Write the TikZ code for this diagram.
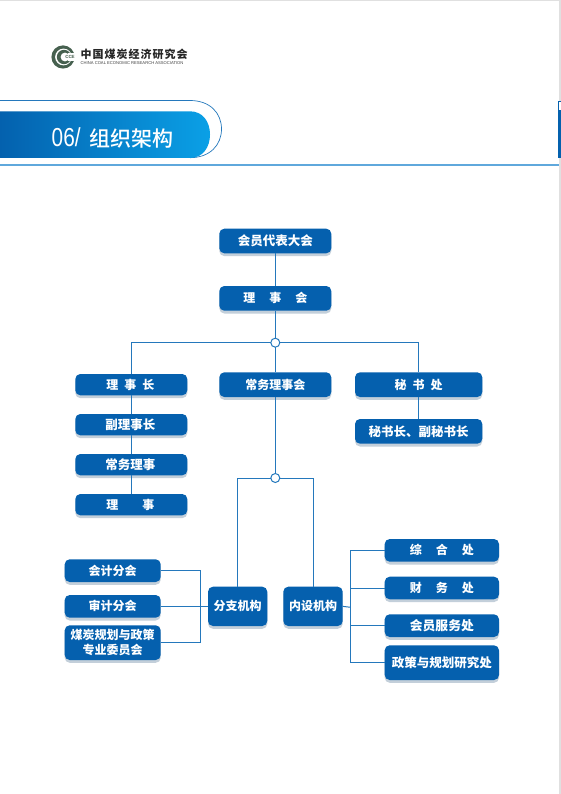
\documentclass[tikz,border=0pt]{standalone}
\usepackage{fontspec}
\setmainfont{Liberation Sans}
\newfontfamily\cjkb{Noto Sans CJK SC Black}
\newfontfamily\cjkm{Noto Sans CJK SC Medium}
\usetikzlibrary{shadows,calc}
\definecolor{boxblue}{HTML}{0560AE}
\definecolor{linkblue}{HTML}{2478BC}
\definecolor{shadowgrey}{HTML}{C3CFDA}
\definecolor{ruleblue}{HTML}{5FA8DC}
\definecolor{gradl}{HTML}{0461AE}
\definecolor{gradr}{HTML}{0AA0E6}
\definecolor{logogreen}{HTML}{46604F}
\newcommand{\orgbox}[6]{%
  \pgfmathsetmacro{\bw}{#4-#2}\pgfmathsetmacro{\bh}{#5-#3}%
  \node[orgnode,minimum width=\bw pt,minimum height=\bh pt] (#1) at ({(#2+#4)/2},{(#3+#5)/2}) {#6};}
\tikzset{
  orgnode/.style={fill=boxblue,text=white,rounded corners=5pt,inner sep=0pt,outer sep=0pt,
    font=\cjkb\fontsize{12}{15}\selectfont,align=center,
    copy shadow={draw=none,fill=shadowgrey,shadow xshift=0pt,shadow yshift=-2.8pt}},
  link/.style={draw=linkblue,line width=1pt},
  junction/.style={circle,draw=linkblue,fill=white,line width=1pt,minimum size=9pt,inner sep=0pt,outer sep=0pt}
}
\begin{document}
\begin{tikzpicture}[x=1pt,y=-1pt]
\useasboundingbox (0,0) rectangle (561,794);
\fill[white] (0,0) rectangle (561,794);
% page edges
\fill[black!12] (0,0) rectangle (561,1);
\fill[black!12] (559,0) rectangle (561,794);
% side tab
\fill[gradl] (558,101) rectangle (561,158);
\fill[white] (559,102) rectangle (561,110);
% header
\draw[linkblue,line width=0.7pt] (0,100.5) -- (190,100.5) .. controls (210,100.5) and (221.5,113) .. (221.5,129) .. controls (221.5,145) and (210,157.7) .. (190,157.7);
\shade[left color=gradl,right color=gradr] (0,111.3) -- (190,111.3) .. controls (203,111.3) and (210,122) .. (210,134.5) .. controls (210,147) and (203,158) .. (190,158) -- (0,158) -- cycle;
\draw[ruleblue,line width=1.1pt] (0,165) -- (559,165);
\node[anchor=west,text=white,inner sep=0pt,font=\fontsize{26}{26}\selectfont] (num) at (51.5,137.5) {\scalebox{0.8}[1]{06/}};
\node[anchor=west,text=white,inner sep=0pt,font=\cjkm\fontsize{21}{21}\selectfont] (title) at (89,138.5) {组织架构};
% logo
\fill[logogreen] (63,57) circle (11.6);
\fill[white] (63.5,57) circle (8.4);
\fill[logogreen] (64,57) circle (7.2);
\fill[white] (65,57) circle (4.4);
\fill[white] (68,53) rectangle (75,61);
\node[text=logogreen,inner sep=0pt,font=\bfseries\fontsize{4.5}{5}\selectfont] (coal) at (70,57) {CCE};
\node[anchor=west,inner sep=0pt,text=black!85,font=\cjkb\fontsize{11}{12}\selectfont] (lname) at (80.5,54) {中\hspace{1pt}国\hspace{1pt}煤\hspace{1pt}炭\hspace{1pt}经\hspace{1pt}济\hspace{1pt}研\hspace{1pt}究\hspace{1pt}会};
\node[anchor=west,inner sep=0pt,text=black!75,font=\fontsize{4.15}{5}\selectfont] (ename) at (80.5,62.6) {CHINA COAL ECONOMIC RESEARCH ASSOCIATION};
% boxes
\orgbox{a}{219.3}{228.7}{331.3}{253.3}{{\fontsize{12.5}{15}\selectfont 会员代表大会}}
\orgbox{b}{219.3}{286}{331.3}{310.7}{理\hspace{14pt}事\hspace{14pt}会}
\orgbox{c1}{75.3}{374}{187.3}{395.3}{\hspace*{-2pt}理\hspace{6pt}事\hspace{6pt}长}
\orgbox{c2}{75.3}{414}{187.3}{435.3}{\hspace*{-2pt}{\fontsize{12.5}{15}\selectfont 副理事长}}
\orgbox{c3}{75.3}{454}{187.3}{475.3}{\hspace*{-2pt}{\fontsize{12.5}{15}\selectfont 常务理事}}
\orgbox{c4}{75.3}{494}{187.3}{515.3}{\hspace*{-2pt}理\hspace{24pt}事}
\orgbox{d}{219.3}{372.3}{331.3}{397}{常务理事会}
\orgbox{e1}{355}{372.3}{482.3}{397}{秘\hspace{6pt}书\hspace{6pt}处}
\orgbox{e2}{355}{419}{482.3}{443.7}{{\fontsize{12.5}{15}\selectfont 秘书长、副秘书长}}
\orgbox{f1}{64.7}{559.3}{160.7}{582}{会计分会}
\orgbox{f2}{64.7}{595}{160.7}{617.7}{审计分会}
\orgbox{f3}{64.7}{625.3}{160.7}{660}{煤炭规划与政策\\专业委员会}
\orgbox{g}{208}{586.7}{267.3}{626}{分支机构}
\orgbox{h}{283.3}{586.7}{342.7}{626}{内设机构}
\orgbox{i1}{384.7}{539}{499}{561.7}{综\hspace{14pt}合\hspace{14pt}处}
\orgbox{i2}{384.7}{576.7}{499}{599.3}{财\hspace{14pt}务\hspace{14pt}处}
\orgbox{i3}{384.7}{614.3}{499}{637}{{\fontsize{12.8}{15}\selectfont 会员服务处}}
\orgbox{i4}{384.7}{645.3}{499}{680}{{\fontsize{12.5}{15}\selectfont 政策与规划研究处}}
% junctions and free bends
\node[junction] (j1) at (275.3,342.7) {};
\node[junction] (j2) at (275.3,478) {};
\coordinate (lb) at (200,607.3);
\coordinate (rb) at (350.7,607.3);
% connectors
\draw[link] (a.south) -- (b.north);
\draw[link] (b.south) -- (j1.north);
\draw[link] (j1.south) -- (d.north);
\draw[link] (j1.west) -| (c1.north);
\draw[link] (j1.east) -| (e1.north);
\draw[link] (c1.south) -- (c2.north);
\draw[link] (c2.south) -- (c3.north);
\draw[link] (c3.south) -- (c4.north);
\draw[link] (e1.south) -- (e2.north);
\draw[link] (d.south) -- (j2.north);
\draw[link] (j2.west) -| (g.north);
\draw[link] (j2.east) -| (h.north);
\draw[link] (f2.east) -- (g.west);
\draw[link] (f1.east) -| (lb);
\draw[link] (f3.east) -| (lb);
\draw[link] (h.east) -- (rb);
\draw[link] (i1.west) -| (rb);
\draw[link] (i2.west) -| (rb);
\draw[link] (i3.west) -| (rb);
\draw[link] (i4.west) -| (rb);
\end{tikzpicture}
\end{document}
